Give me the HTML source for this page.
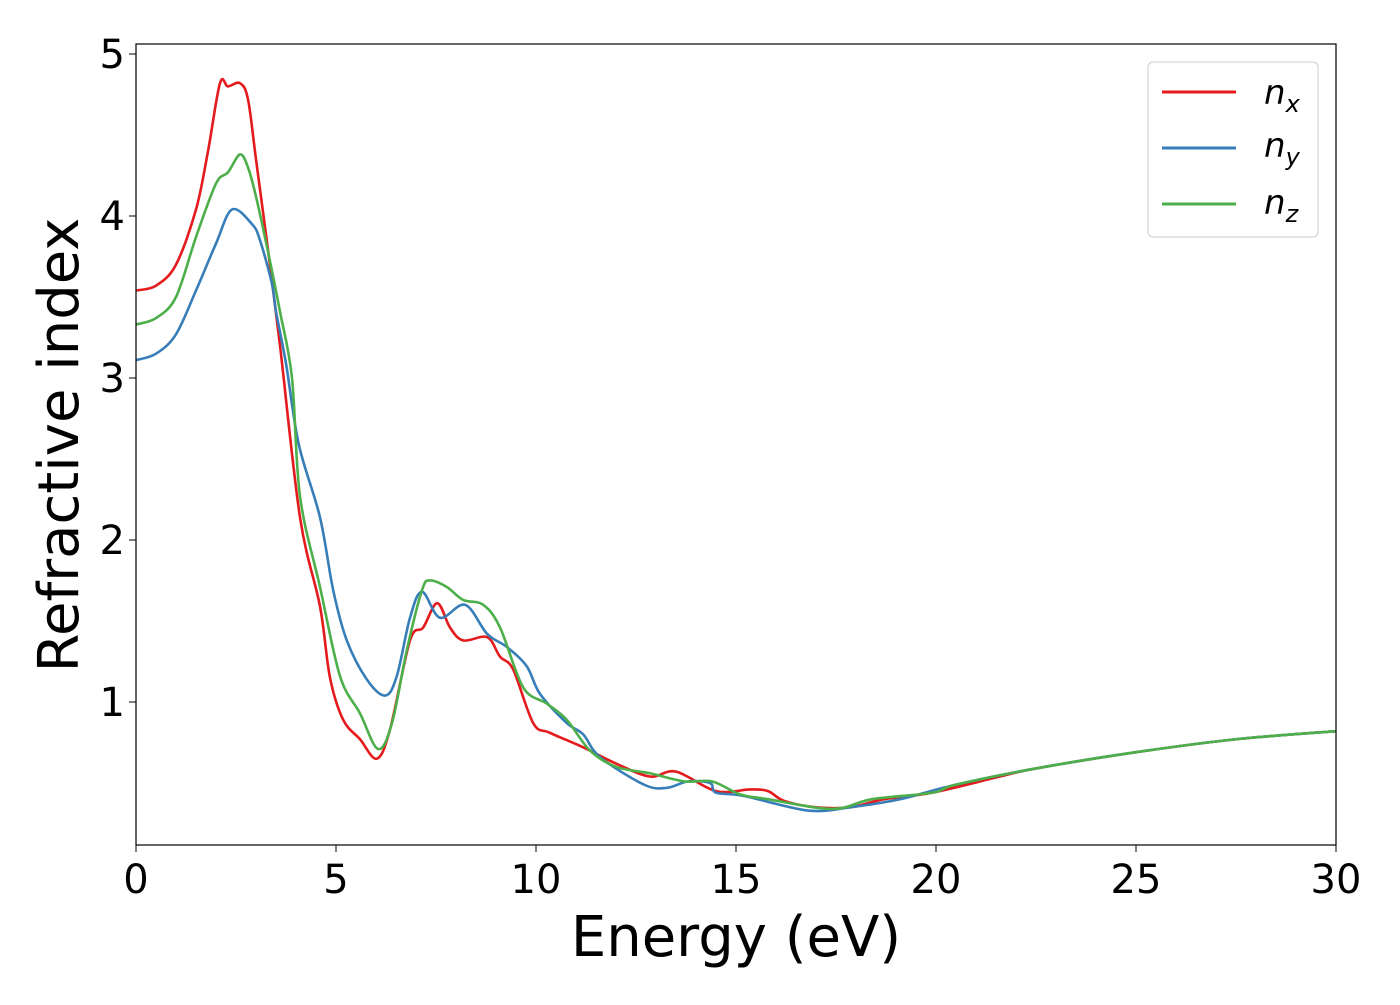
<!DOCTYPE html>
<html><head><meta charset="utf-8"><style>
body{margin:0;background:#fff}
svg text{font-family:"DejaVu Sans","Liberation Sans",sans-serif;fill:#000}
</style></head><body>
<svg id="chart" width="1400" height="1000" xmlns="http://www.w3.org/2000/svg">
<rect width="1400" height="1000" fill="#fff"/>
<g id="series"></g>
<rect x="136" y="44" width="1200" height="801" fill="none" stroke="#000" stroke-width="1.2"/>
<g id="axes"></g>
<text x="736" y="956" font-size="56" text-anchor="middle">Energy (eV)</text>
<text transform="translate(78,445) rotate(-90)" font-size="56" text-anchor="middle">Refractive index</text>
<g>
<rect x="1148" y="62" width="170" height="175" rx="5" fill="#fff" stroke="#ccc"/>
<line x1="1162" y1="92" x2="1236" y2="92" stroke="#e41a1c" stroke-width="3"/>
<text x="1264" y="104" font-size="34" font-style="italic">n<tspan font-size="24" dy="8">x</tspan></text>
<line x1="1162" y1="148" x2="1236" y2="148" stroke="#377eb8" stroke-width="3"/>
<text x="1264" y="157" font-size="34" font-style="italic">n<tspan font-size="24" dy="8">y</tspan></text>
<line x1="1162" y1="204" x2="1236" y2="204" stroke="#4daf4a" stroke-width="3"/>
<text x="1264" y="214" font-size="34" font-style="italic">n<tspan font-size="24" dy="8">z</tspan></text>
</g>
</svg>
<script>
const xTicks=[0,5,10,15,20,25,30];
const yTicks=[1,2,3,4,5];
const nxE=[0,0.5,1,1.5,1.8,2.1,2.3,2.6,2.8,3.0,3.3,3.6,4.1,4.6,4.85,5.18,5.6,6.02,6.35,6.85,7.18,7.53,7.85,8.18,8.78,9.1,9.43,9.93,10.35,11.18,12.0,12.85,13.5,14.5,15.35,15.8,16.2,17.0,17.85,18.7,19.9,21.6,22.5,25,27.5,30];
const nxV=[3.54,3.57,3.70,4.04,4.4,4.82,4.80,4.82,4.72,4.35,3.79,3.2,2.14,1.59,1.15,0.89,0.77,0.65,0.83,1.38,1.46,1.61,1.46,1.38,1.40,1.28,1.20,0.87,0.81,0.72,0.62,0.54,0.57,0.45,0.46,0.45,0.39,0.35,0.35,0.40,0.44,0.54,0.59,0.69,0.77,0.82];
const nyE=[0,0.5,1,1.5,2.0,2.4,2.9,3.1,3.4,3.5,3.75,4.07,4.6,4.93,5.27,5.77,6.23,6.52,6.85,7.15,7.6,8.23,8.78,9.27,9.77,10.1,10.77,11.18,11.6,12.7,13.27,13.8,14.35,14.5,15.2,16.8,17.85,19.1,20.5,22.5,25,27.5,30];
const nyV=[3.11,3.15,3.27,3.54,3.83,4.04,3.95,3.85,3.58,3.41,3.09,2.59,2.14,1.69,1.38,1.14,1.04,1.16,1.52,1.68,1.52,1.60,1.42,1.34,1.22,1.05,0.87,0.80,0.66,0.49,0.47,0.51,0.50,0.44,0.42,0.33,0.35,0.40,0.49,0.59,0.69,0.77,0.82];
const nzE=[0,0.5,1,1.5,2.0,2.3,2.6,2.8,3.0,3.3,3.6,3.9,4.1,4.6,5.1,5.6,6.05,6.4,6.77,7.15,7.35,7.77,8.18,8.68,9.1,9.68,10.27,10.77,11.35,12.0,12.85,13.7,14.4,15.1,15.8,17.4,18.4,19.9,20.5,22.5,25,27.5,30];
const nzV=[3.33,3.37,3.50,3.87,4.2,4.27,4.38,4.30,4.12,3.78,3.41,3.0,2.27,1.71,1.16,0.93,0.71,0.87,1.32,1.69,1.75,1.71,1.63,1.60,1.46,1.09,0.99,0.89,0.70,0.60,0.56,0.51,0.51,0.43,0.40,0.34,0.40,0.44,0.49,0.59,0.69,0.77,0.82];
const X=v=>136+v*40, Y=v=>864-v*162;
const NS="http://www.w3.org/2000/svg";
function path(E,V){
 const p=E.map((e,i)=>[X(e),Y(V[i])]);
 let d="M"+p[0][0]+","+p[0][1];
 for(let i=0;i<p.length-1;i++){
  const p0=p[Math.max(0,i-1)],p1=p[i],p2=p[i+1],p3=p[Math.min(p.length-1,i+2)];
  const c1=[p1[0]+(p2[0]-p0[0])/6,p1[1]+(p2[1]-p0[1])/6];
  const c2=[p2[0]-(p3[0]-p1[0])/6,p2[1]-(p3[1]-p1[1])/6];
  d+=` C${c1[0]},${c1[1]} ${c2[0]},${c2[1]} ${p2[0]},${p2[1]}`;
 }
 return d;
}
const g=document.getElementById('series');
[["nx",nxE,nxV,"#e41a1c"],["ny",nyE,nyV,"#377eb8"],["nz",nzE,nzV,"#4daf4a"]].forEach(s=>{
 const el=document.createElementNS(NS,'path');
 
 
 el.setAttribute('d',path(s[1],s[2]));
 el.setAttribute('fill','none');el.setAttribute('stroke',s[3]);el.setAttribute('stroke-width','2.6');
 g.appendChild(el);
});
const a=document.getElementById('axes');
xTicks.forEach(t=>{
 const l=document.createElementNS(NS,'line');
 
 
 l.setAttribute('x1',X(t));l.setAttribute('x2',X(t));l.setAttribute('y1',845);l.setAttribute('y2',852);l.setAttribute('stroke','#000');
 a.appendChild(l);
 const tx=document.createElementNS(NS,'text');
 
 
 tx.setAttribute('x',X(t));tx.setAttribute('y',893);tx.setAttribute('font-size','40');tx.setAttribute('text-anchor','middle');
 tx.textContent=t;a.appendChild(tx);
});
yTicks.forEach(t=>{
 const l=document.createElementNS(NS,'line');
 
 
 l.setAttribute('x1',129);l.setAttribute('x2',136);l.setAttribute('y1',Y(t));l.setAttribute('y2',Y(t));l.setAttribute('stroke','#000');
 a.appendChild(l);
 const tx=document.createElementNS(NS,'text');
 
 
 tx.setAttribute('x',125);tx.setAttribute('y',Y(t)+14);tx.setAttribute('font-size','40');tx.setAttribute('text-anchor','end');
 tx.textContent=t;a.appendChild(tx);
});
</script>
</body></html>
